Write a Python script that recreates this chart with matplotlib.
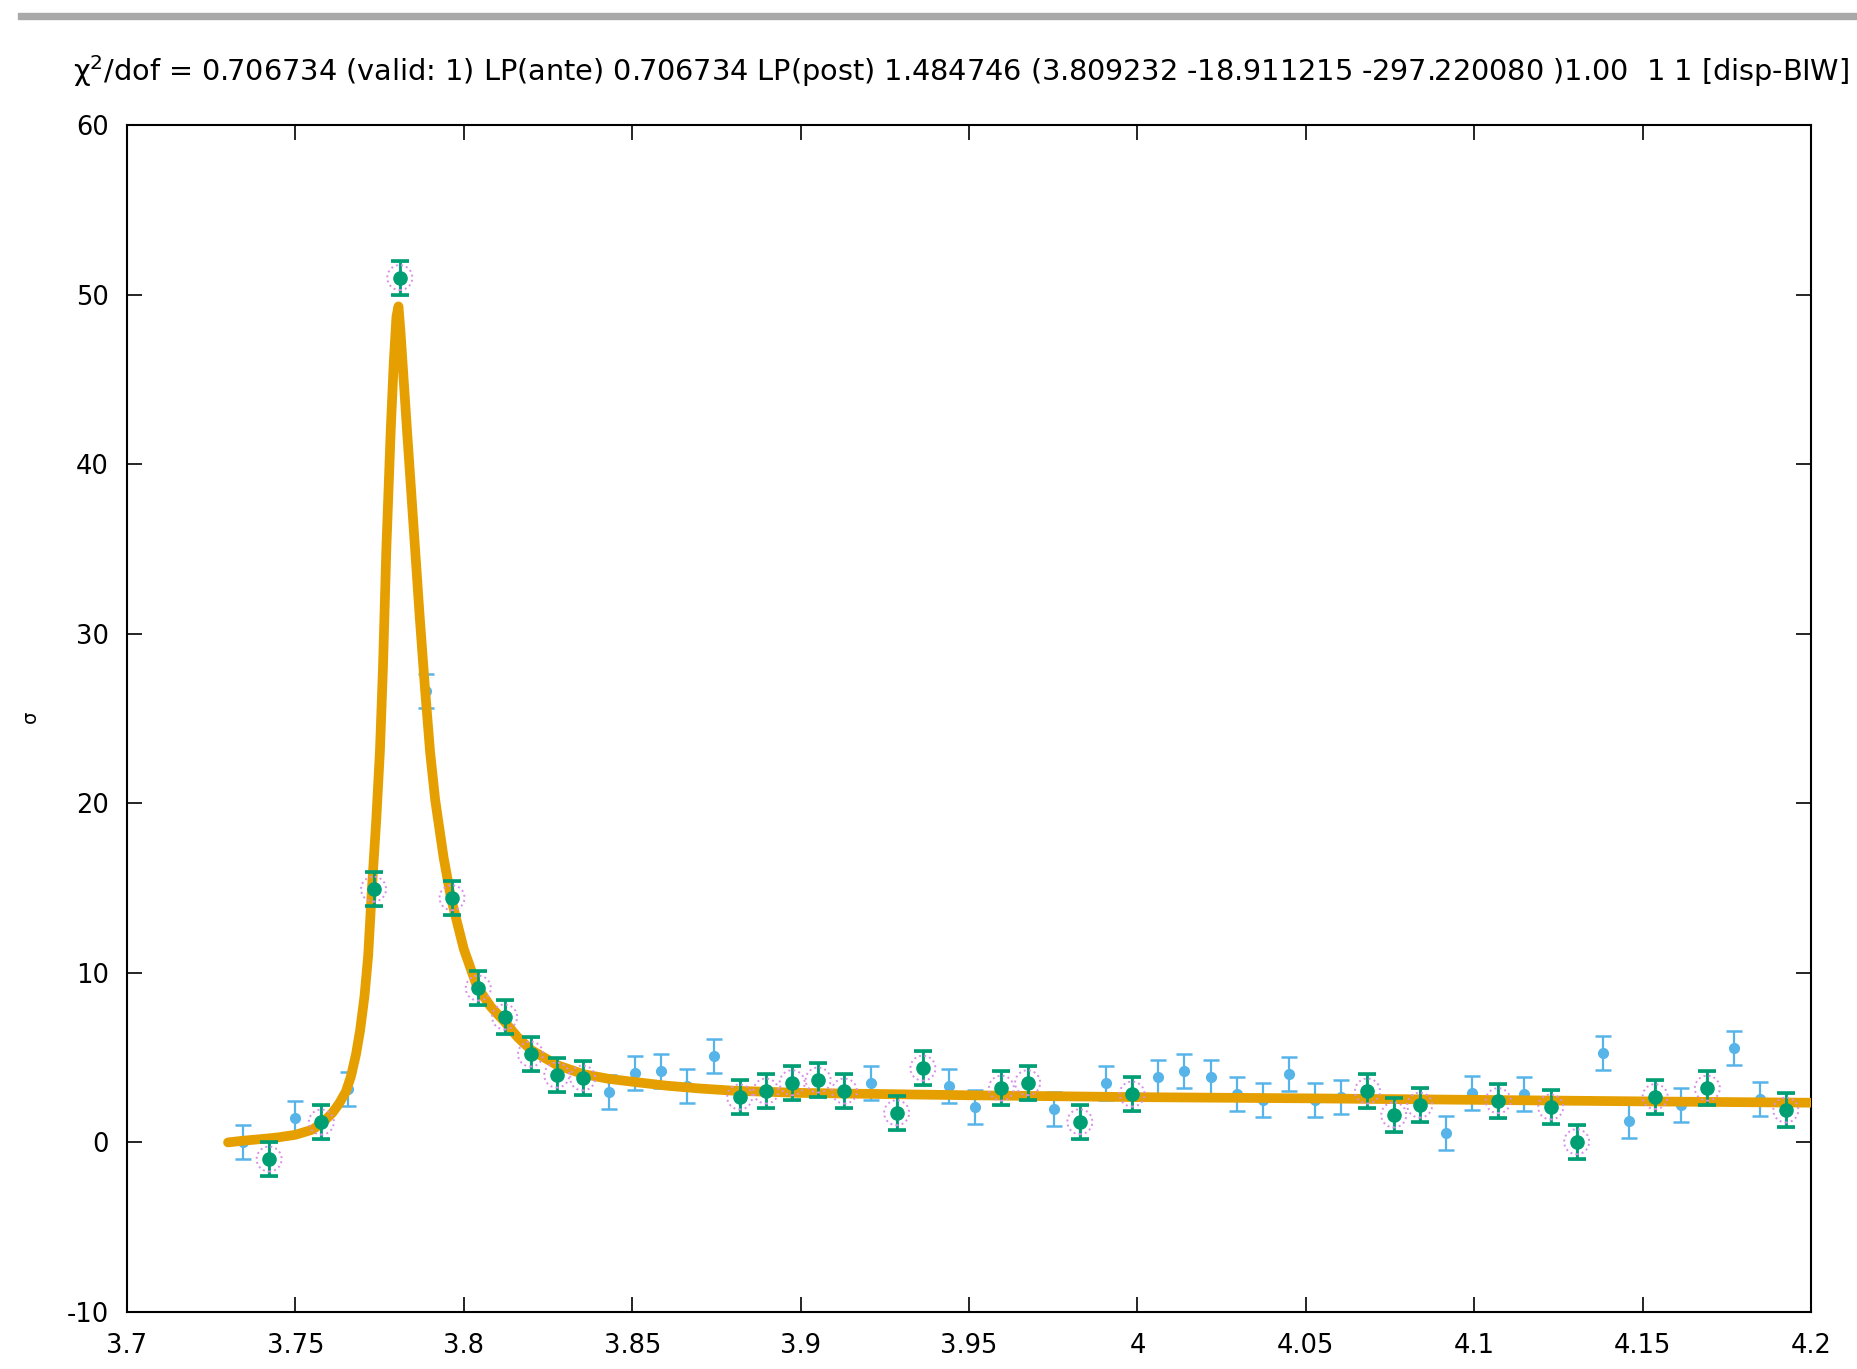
import matplotlib
matplotlib.use("Agg")
import matplotlib.pyplot as plt
from matplotlib.patches import Rectangle

plt.rcParams['font.family'] = ['DejaVu Sans']
plt.rcParams['axes.unicode_minus'] = False

# measured points (x, sigma), err, and which ones are used in the fit
x_pts = [3.7344, 3.7422, 3.7499, 3.7577, 3.7655, 3.7732, 3.7810, 3.7888, 3.7965, 3.8043,
         3.8121, 3.8198, 3.8276, 3.8353, 3.8431, 3.8509, 3.8586, 3.8664, 3.8742, 3.8819,
         3.8897, 3.8975, 3.9052, 3.9130, 3.9208, 3.9285, 3.9363, 3.9441, 3.9518, 3.9596,
         3.9674, 3.9751, 3.9829, 3.9906, 3.9984, 4.0062, 4.0139, 4.0217, 4.0295, 4.0372,
         4.0450, 4.0528, 4.0605, 4.0683, 4.0761, 4.0838, 4.0916, 4.0994, 4.1071, 4.1149,
         4.1227, 4.1304, 4.1382, 4.1459, 4.1537, 4.1615, 4.1692, 4.1770, 4.1848, 4.1925]
y_pts = [0.05, -0.98, 1.46, 1.20, 3.15, 14.94, 51.0, 26.64, 14.43, 9.10,
         7.40, 5.21, 3.97, 3.80, 2.99, 4.09, 4.23, 3.33, 5.10, 2.68,
         3.03, 3.52, 3.68, 3.03, 3.52, 1.75, 4.38, 3.33, 2.10, 3.20,
         3.52, 1.97, 1.22, 3.52, 2.85, 3.85, 4.23, 3.85, 2.85, 2.50,
         4.03, 2.50, 2.68, 3.03, 1.62, 2.20, 0.57, 2.90, 2.46, 2.85,
         2.09, 0.04, 5.27, 1.28, 2.70, 2.20, 3.20, 5.59, 2.56, 1.91]
err = [1.0] * 60
used = [0, 1, 0, 1, 0, 1, 1, 0, 1, 1,
        1, 1, 1, 1, 0, 0, 0, 0, 0, 1,
        1, 1, 1, 1, 0, 1, 1, 0, 0, 1,
        1, 0, 1, 0, 1, 0, 0, 0, 0, 0,
        0, 0, 0, 1, 1, 1, 0, 0, 1, 0,
        1, 1, 0, 0, 1, 0, 1, 0, 0, 1]

# fit curve
x_fit = [3.7300, 3.7344, 3.7400, 3.7450, 3.7500, 3.7550, 3.7580, 3.7610, 3.7630, 3.7650,
         3.7665, 3.7680, 3.7692, 3.7705, 3.7716, 3.7727, 3.7740, 3.7751, 3.7760, 3.7770,
         3.7783, 3.7792, 3.7800, 3.7806, 3.7812, 3.7822, 3.7832, 3.7843, 3.7856, 3.7869,
         3.7885, 3.7900, 3.7915, 3.7940, 3.7962, 3.8000, 3.8039, 3.8080, 3.8122, 3.8160,
         3.8200, 3.8277, 3.8354, 3.8430, 3.8500, 3.8600, 3.8700, 3.8800, 3.9000, 3.9500,
         4.0000, 4.0500, 4.1000, 4.1500, 4.2000]
y_fit = [0.00, 0.10, 0.20, 0.30, 0.45, 0.75, 1.15, 1.75, 2.30, 3.00,
         3.90, 5.20, 6.60, 8.60, 11.00, 14.90, 19.00, 23.10, 28.00, 35.00,
         42.00, 46.00, 48.70, 49.30, 47.80, 44.80, 41.80, 38.60, 34.80, 31.00,
         26.70, 23.00, 20.20, 16.80, 14.40, 11.40, 9.20, 8.00, 7.10, 6.20,
         5.45, 4.56, 4.03, 3.75, 3.58, 3.35, 3.18, 3.05, 2.92, 2.78,
         2.67, 2.60, 2.51, 2.42, 2.34]

title = ("χ$^2$/dof = 0.706734 (valid: 1) LP(ante) 0.706734 LP(post) 1.484746 "
         "(3.809232 -18.911215 -297.220080 )1.00  1 1 [disp-BIW]")

blue = '#56B4E9'
green = '#009E73'
orange = '#E69F00'
violet = '#D98EEB'

fig = plt.figure(figsize=(18.58, 13.69), dpi=100)
ax = fig.add_axes([0.06835, 0.04164, 0.9064, 0.8671])

# window border strip at the top
fig.patches.append(Rectangle((18 / 1858, 1 - 19 / 1369), 1, 6 / 1369,
                             transform=fig.transFigure, color='#a9a9a9', zorder=0))

ax.errorbar(x_pts, y_pts, yerr=err, fmt='o', color=blue, ms=7, elinewidth=1.6,
            capsize=6, capthick=1.8, zorder=2)

ax.plot(x_fit, y_fit, color=orange, lw=7, solid_capstyle='round',
        solid_joinstyle='round', zorder=3)

xg = [x for x, u in zip(x_pts, used) if u]
yg = [y for y, u in zip(y_pts, used) if u]
eg = [e for e, u in zip(err, used) if u]
ax.errorbar(xg, yg, yerr=eg, fmt='o', color=green, ms=9.5, elinewidth=2,
            capsize=6.5, capthick=2.6, zorder=4)
ax.scatter(xg, yg, s=18 ** 2, facecolors='none', edgecolors=violet, linewidths=1.4,
           linestyles=':', zorder=5)

ax.set_xlim(3.7, 4.2)
ax.set_ylim(-10, 60)
ax.set_xticks([3.7, 3.75, 3.8, 3.85, 3.9, 3.95, 4.0, 4.05, 4.1, 4.15, 4.2])
ax.set_xticklabels(['3.7', '3.75', '3.8', '3.85', '3.9', '3.95', '4', '4.05', '4.1', '4.15', '4.2'])
ax.set_yticks([-10, 0, 10, 20, 30, 40, 50, 60])
ax.tick_params(direction='in', length=11, width=1.2, top=True, right=True, labelsize=18.5)
ax.tick_params(axis='x', pad=15)
ax.tick_params(axis='y', pad=13)
for s in ax.spines.values():
    s.set_linewidth(1.5)

fig.text(30 / 1858, 1 - 717 / 1369, 'σ', rotation=90, fontsize=14, ha='center', va='center')
fig.text(73 / 1858, 1 - 71 / 1369, title, fontsize=20.7, ha='left', va='center')

fig.savefig('out.png', dpi=100)
